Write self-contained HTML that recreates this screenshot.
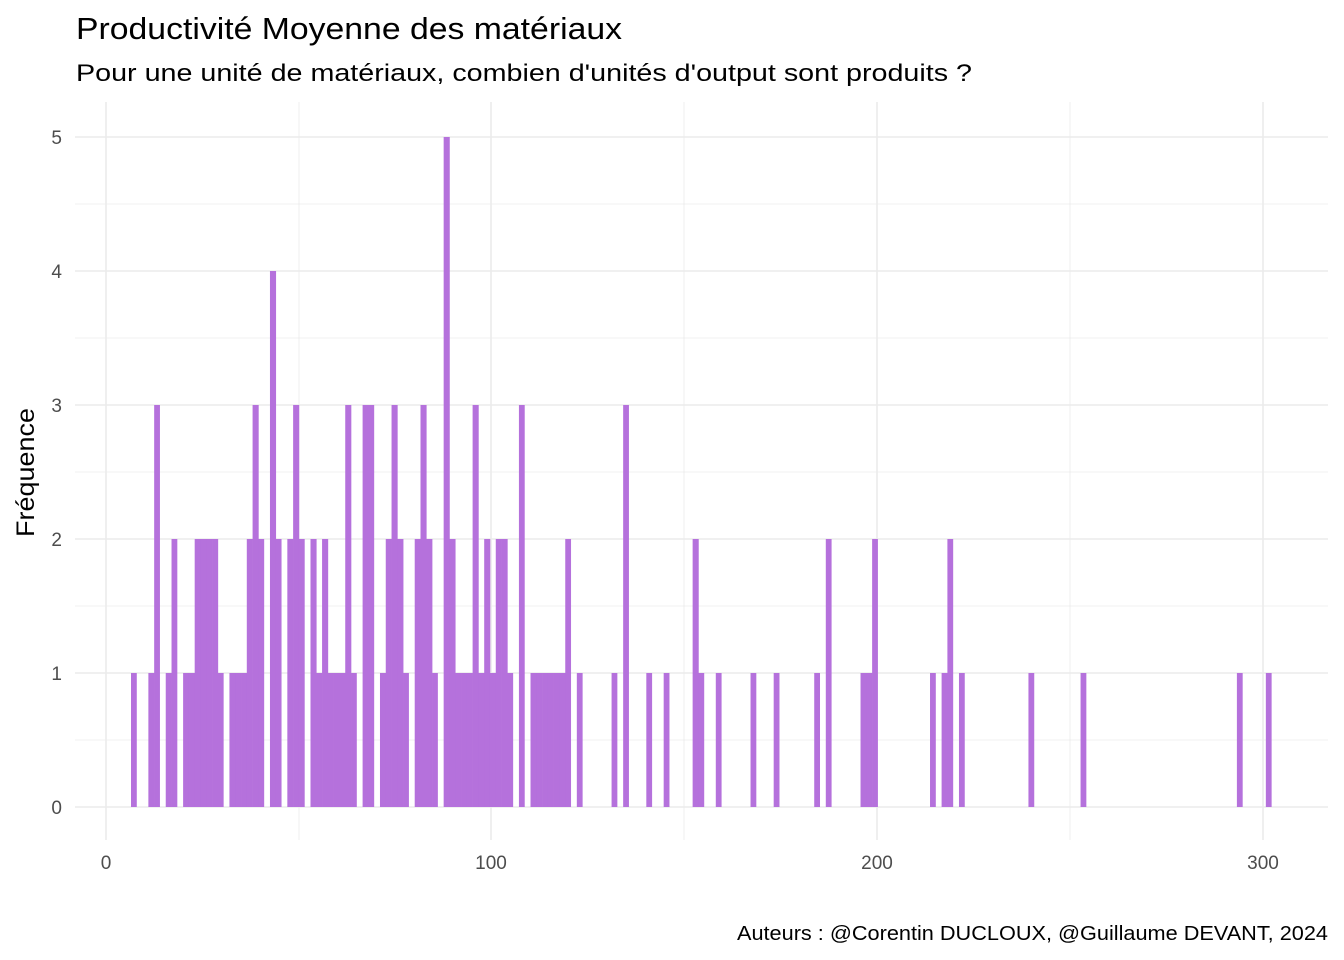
<!DOCTYPE html>
<html><head><meta charset="utf-8"><style>
html,body{margin:0;padding:0;background:#fff;}
svg{display:block;font-family:"Liberation Sans",sans-serif;}
</style></head><body>
<svg id="s" width="1344" height="960" xmlns="http://www.w3.org/2000/svg">
<rect width="1344" height="960" fill="#fff"/>
<g stroke="#ebebeb" stroke-width="0.8">
<line x1="75" x2="1328" y1="740" y2="740"/><line x1="75" x2="1328" y1="606" y2="606"/>
<line x1="75" x2="1328" y1="472" y2="472"/><line x1="75" x2="1328" y1="338" y2="338"/>
<line x1="75" x2="1328" y1="204" y2="204"/>
<line x1="299" x2="299" y1="102" y2="840"/><line x1="684" x2="684" y1="102" y2="840"/><line x1="1070" x2="1070" y1="102" y2="840"/>
</g>
<g stroke="#ebebeb" stroke-width="1.6">
<line x1="75" x2="1328" y1="807" y2="807"/><line x1="75" x2="1328" y1="673" y2="673"/>
<line x1="75" x2="1328" y1="539" y2="539"/><line x1="75" x2="1328" y1="405" y2="405"/>
<line x1="75" x2="1328" y1="271" y2="271"/><line x1="75" x2="1328" y1="137" y2="137"/>
<line x1="106" x2="106" y1="102" y2="840"/><line x1="491" x2="491" y1="102" y2="840"/>
<line x1="877" x2="877" y1="102" y2="840"/><line x1="1263" x2="1263" y1="102" y2="840"/>
</g>
<g id="bars" fill="#b571dc"></g>
<g fill="#4d4d4d" font-size="19" text-anchor="end">
<text x="62" y="814">0</text><text x="62" y="680">1</text><text x="62" y="546">2</text>
<text x="62" y="412">3</text><text x="62" y="278">4</text><text x="62" y="144">5</text>
</g>
<g fill="#4d4d4d" font-size="19" text-anchor="middle">
<text x="106" y="869">0</text><text x="491" y="869">100</text><text x="877" y="869">200</text><text x="1263" y="869">300</text>
</g>
<text transform="translate(34,537) rotate(-90)" font-size="25" fill="#000" textLength="129" lengthAdjust="spacingAndGlyphs">Fréquence</text>
<text x="76" y="39" font-size="31" fill="#000" textLength="546" lengthAdjust="spacingAndGlyphs">Productivité Moyenne des matériaux</text>
<text x="76" y="81" font-size="24" fill="#000" textLength="896" lengthAdjust="spacingAndGlyphs">Pour une unité de matériaux, combien d'unités d'output sont produits ?</text>
<text x="737" y="940" font-size="20" fill="#000" textLength="591" lengthAdjust="spacingAndGlyphs">Auteurs : @Corentin DUCLOUX, @Guillaume DEVANT, 2024</text>
</svg>
<script>
var h={0:1,3:1,4:3,6:1,7:2,9:1,10:1,11:2,12:2,13:2,14:2,15:1,17:1,18:1,19:1,20:2,21:3,22:2,24:4,25:2,27:2,28:3,29:2,31:2,32:1,33:2,34:1,35:1,36:1,37:3,38:1,40:3,41:3,43:1,44:2,45:3,46:2,47:1,49:2,50:3,51:2,52:1,54:5,55:2,56:1,57:1,58:1,59:3,60:1,61:2,62:1,63:2,64:2,65:1,67:3,69:1,70:1,71:1,72:1,73:1,74:1,75:2,77:1,83:1,85:3,89:1,92:1,97:2,98:1,101:1,107:1,111:1,118:1,120:2,126:1,127:1,128:2,138:1,140:1,141:2,143:1,155:1,164:1,191:1,196:1};
var g=document.getElementById('bars'),ns="http://www.w3.org/2000/svg";
for(var k in h){var i=+k,x=131+i*5.79,w=(h[i+1]?6.1:5.79),r=document.createElementNS(ns,'rect');
r.setAttribute('x',x.toFixed(2));r.setAttribute('width',w);
r.setAttribute('y',(807-134*h[k]).toFixed(1));r.setAttribute('height',(134*h[k]).toFixed(1));g.appendChild(r);}
</script>
</body></html>
